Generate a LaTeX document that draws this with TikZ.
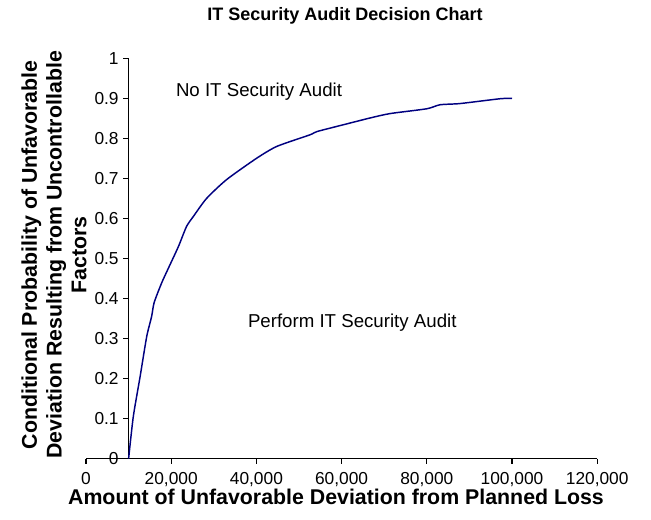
\documentclass[tikz,border=0pt]{standalone}
\usepackage{fontspec}
\setmainfont{Liberation Sans}
\usepackage{xcolor}
\usepackage{tikz}
\usetikzlibrary{positioning}

\definecolor{curveblue}{RGB}{0,0,128}

\begin{document}
\begin{tikzpicture}[
  x=0.75pt, y=-0.75pt,
  every node/.style={inner sep=0pt, outer sep=0pt},
  axisline/.style={line width=0.8pt, black},
  ticklab/.style={font=\fontsize{13}{15}\selectfont},
  zonelab/.style={font=\fontsize{14}{16}\selectfont, anchor=west},
  axislab/.style={font=\bfseries\fontsize{16}{18.5}\selectfont, align=center},
  curve/.style={line width=1.1pt, curveblue, line join=round},
]

%% ── Frame (1 unit = 1 px of the 651x519 chart) ─────────────────────────────
\useasboundingbox (0,0) rectangle (651,519);

%% Title
\node[axislab, font=\bfseries\fontsize{13.5}{16}\selectfont] (title) at (345,16)
  {IT Security Audit Decision Chart};

%% ════════════════════════════════════════════════════════════════════════════
%% PLOT AREA — x in thousands, y = probability
%% ════════════════════════════════════════════════════════════════════════════
\begin{scope}[shift={(86,458.7)}, x={(3.195pt,0pt)}, y={(0pt,300.3pt)}]

  %% Axes
  \draw[axisline] (0,0) -- (120,0);
  \draw[axisline] (10,0) -- (10,1);

  %% x ticks (pointing down)
  \foreach \v/\t [count=\i] in {0/0, 20/{20,000}, 40/{40,000}, 60/{60,000},
                                80/{80,000}, 100/{100,000}, 120/{120,000}}
    \draw[axisline] (\v,0) -- ++(0,-4pt)
      node[ticklab, below=6pt] (xlab\i) {\t};

  %% y ticks (pointing left)
  \foreach \v [count=\i] in {0,0.1,0.2,0.3,0.4,0.5,0.6,0.7,0.8,0.9,1}
    \draw[axisline] (10,\v) -- ++(-4pt,0)
      node[ticklab, left=3.5pt] (ylab\i) {\v};

  %% Decision boundary
  \draw[curve] plot[smooth, tension=0.4] coordinates {
    (10,0) (11.1,0.105) (12.7,0.205) (14.25,0.305) (15.4,0.355) (16,0.39)
    (17.8,0.44) (19.7,0.484) (21.7,0.53) (23.6,0.58) (25.2,0.605)
    (28.3,0.65) (33,0.697) (40,0.75) (44.8,0.78) (52.6,0.809) (54.2,0.817)
    (60.4,0.834) (66.7,0.851) (71.4,0.862) (80,0.874) (83.1,0.884)
    (87.8,0.887) (97.2,0.899) (100,0.9)};

\end{scope}

%% Region labels
\node[zonelab] (noaudit) at (176,91.7) {No IT Security Audit};
\node[zonelab] (doaudit) at (248,323) {Perform IT Security Audit};

%% Axis titles
\node[axislab] (xtitle) at (336,497)
  {Amount of Unfavorable Deviation from Planned Loss};
\node[axislab, rotate=90] (ytitle) at (54,255)
  {Conditional Probability of Unfavorable\\
   Deviation Resulting from Uncontrollable\\
   Factors};

\end{tikzpicture}
\end{document}
